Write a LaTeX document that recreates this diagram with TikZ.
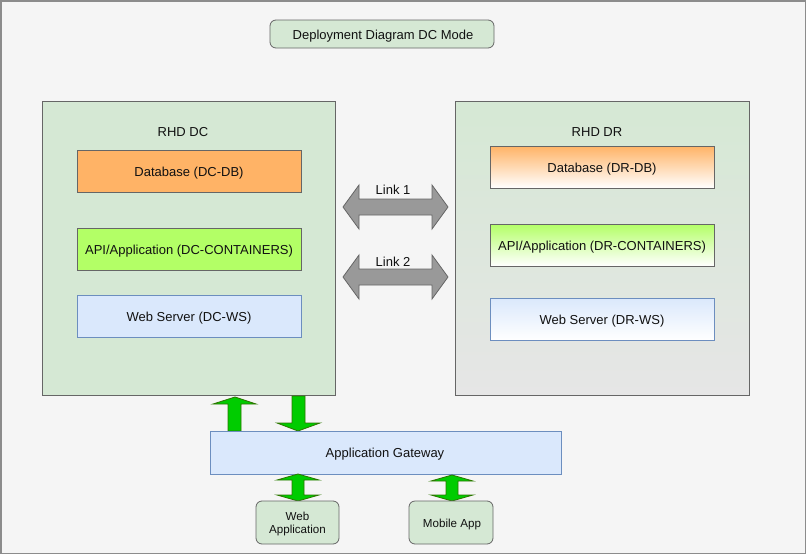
\documentclass[tikz,border=0pt]{standalone}
\usepackage{fontspec}
\setmainfont{Liberation Sans}
\definecolor{bg}{HTML}{F5F5F5}
\definecolor{frame}{HTML}{8C8C8C}
\definecolor{gfill}{HTML}{D5E8D4}
\definecolor{gline}{HTML}{666666}
\definecolor{ofill}{HTML}{FFB366}
\definecolor{lfill}{HTML}{B3FF66}
\definecolor{bfill}{HTML}{DAE8FC}
\definecolor{bline}{HTML}{6C8EBF}
\definecolor{grayend}{HTML}{E6E6E6}
\definecolor{arrfill}{HTML}{999999}
\definecolor{grfill}{HTML}{00CC00}
\definecolor{grline}{HTML}{2D7600}
\definecolor{ink}{HTML}{111111}
\tikzset{
  txt/.style={font=\fontsize{13}{15}\selectfont, inner sep=0pt, text=ink, text height=9.3pt, text depth=0pt, yshift=-1pt},
  smalltxt/.style={font=\fontsize{11.6}{13.5}\selectfont, inner sep=0pt, align=center, text=ink},
  box/.style={draw=gline, line width=0.8pt},
  bluebox/.style={draw=bline, line width=0.8pt},
  rbox/.style={draw=gline, fill=gfill, rounded corners=6pt, line width=0.8pt},
  grayarrow/.style={fill=arrfill, draw=gline, line width=0.8pt, line join=miter},
  greenarrow/.style={fill=grfill, draw=grline, line width=0.8pt, line join=miter},
}
\begin{document}
\begin{tikzpicture}[x=1pt,y=-1pt]
\useasboundingbox (0,0) rectangle (806,554);
\fill[bg] (0,0) rectangle (806,554);
\draw[frame, line width=1.5pt] (0.75,0.75) rectangle (805.25,553.25);

% title
\draw[rbox] (270,20) rectangle (494,48);
\node[txt] (title) at (383,34) {Deployment Diagram DC Mode};

% DC container
\draw[box, fill=gfill] (42,101) rectangle (335,395);
\node[txt] (dclabel) at (183,131) {RHD DC};
\draw[box, fill=ofill] (77,150) rectangle (301,192);
\node[txt] (dcdb) at (189,171) {Database (DC-DB)};
\draw[box, fill=lfill] (77,228) rectangle (301,270);
\node[txt] (dcapp) at (189,249) {API/Application (DC-CONTAINERS)};
\draw[bluebox, fill=bfill] (77,295) rectangle (301,337);
\node[txt] (dcws) at (189,316) {Web Server (DC-WS)};

% DR container
\draw[box, top color=gfill, bottom color=grayend] (455,101) rectangle (749,395);
\node[txt] (drlabel) at (597,131) {RHD DR};
\draw[box, top color=ofill, bottom color=white] (490,146) rectangle (714,188);
\node[txt] (drdb) at (602,167) {Database (DR-DB)};
\draw[box, top color=lfill, bottom color=white] (490,224) rectangle (714,266);
\node[txt] (drapp) at (602,245) {API/Application (DR-CONTAINERS)};
\draw[bluebox, top color=bfill, bottom color=white] (490,298) rectangle (714,340);
\node[txt] (drws) at (602,319) {Web Server (DR-WS)};

% link arrows
\draw[grayarrow] (343,207) -- (359,185) -- (359,199) -- (432,199) -- (432,185) -- (448,207)
  -- (432,229) -- (432,215) -- (359,215) -- (359,229) -- cycle;
\node[txt] (link1) at (393,189) {Link 1};
\draw[grayarrow] (343,277) -- (359,255) -- (359,269) -- (432,269) -- (432,255) -- (448,277)
  -- (432,299) -- (432,285) -- (359,285) -- (359,299) -- cycle;
\node[txt] (link2) at (393,261) {Link 2};

% green arrows to/from gateway
\draw[greenarrow] (235,397) -- (256,404) -- (241,404) -- (241,431) -- (228,431) -- (228,404) -- (213,404) -- cycle;
\draw[greenarrow] (298,431) -- (320,423) -- (305,423) -- (305,396) -- (292,396) -- (292,423) -- (277,423) -- cycle;

% gateway
\draw[bluebox, fill=bfill] (210,431) rectangle (561,474);
\node[txt] (gw) at (385,452) {Application Gateway};

% double green arrows
\draw[greenarrow] (298,474) -- (319,480) -- (304,480) -- (304,495) -- (319,495) -- (298,501)
  -- (277,495) -- (292,495) -- (292,480) -- (277,480) -- cycle;
\draw[greenarrow] (452,475) -- (473,481) -- (458,481) -- (458,495) -- (473,495) -- (452,501)
  -- (431,495) -- (446,495) -- (446,481) -- (431,481) -- cycle;

% clients
\draw[rbox] (256,501) rectangle (339,544);
\node[smalltxt] (webapp) at (297.5,524) {Web\\Application};
\draw[rbox] (409,501) rectangle (493,544);
\node[smalltxt, text height=8.3pt, text depth=0pt] (mobile) at (452,523) {Mobile App};
\end{tikzpicture}
\end{document}
